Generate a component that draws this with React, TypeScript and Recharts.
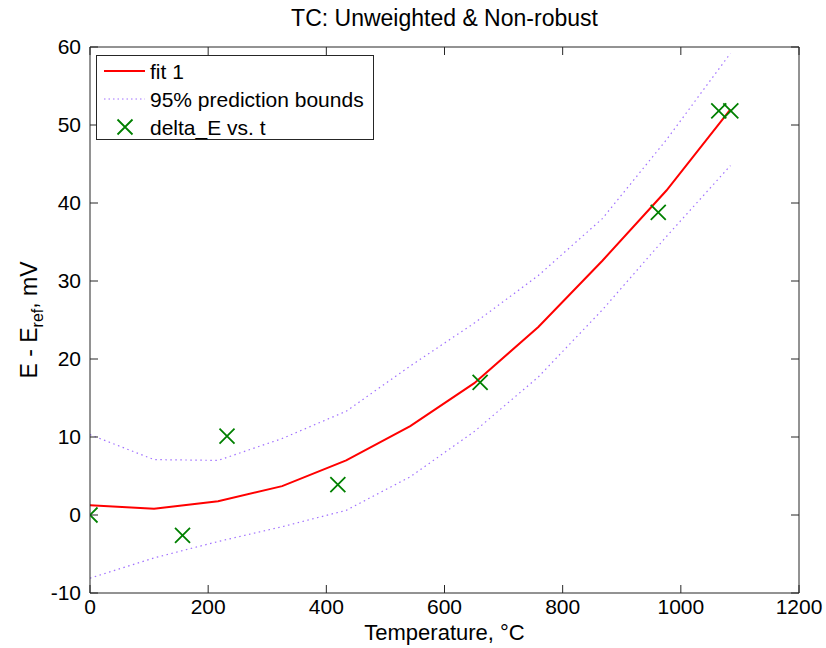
import React from "react";
import { ComposedChart, Line, Scatter, XAxis, YAxis, ReferenceLine, Legend } from "recharts";

// fit curve and prediction bounds, sampled at the same temperatures
const fitT = [0, 108.4, 216.8, 325.2, 433.6, 542, 650.4, 758.8, 867.2, 975.6, 1084];
const fitE = [1.25, 0.8, 1.76, 3.7, 7.0, 11.4, 16.9, 24.1, 32.6, 41.6, 52.0];
const upperE = [10.3, 7.1, 7.0, 9.8, 13.3, 19.1, 24.6, 30.7, 38.0, 48.1, 59.2];
const lowerE = [-8.1, -5.5, -3.4, -1.5, 0.6, 4.9, 10.7, 17.7, 26.3, 35.7, 44.8];

// measured points: delta_E vs. t
const dataT = [0, 156.6, 231.9, 419.5, 660.3, 961.8, 1064.2, 1084.6];
const dataE = [0, -2.6, 10.1, 3.9, 17.0, 38.8, 51.8, 51.8];

const xTicks = [0, 200, 400, 600, 800, 1000, 1200];
const yTicks = [-10, 0, 10, 20, 30, 40, 50, 60];

const FONT = "'Liberation Sans', Arial, sans-serif";
const AXIS = "#262626";
const RED = "#ff0000";
const BOUND = "#a070ff";
const GREEN = "#008000";

const PLOT_W = 709;
const PLOT_H = 546;
const TICK = 8;

const toRows = (ts: number[], es: number[]) => ts.map((t, i) => ({ t, e: es[i] }));
const fitRows = toRows(fitT, fitE);
const upperRows = toRows(fitT, upperE);
const lowerRows = toRows(fitT, lowerE);
const pointRows = toRows(dataT, dataE);

const XMark = (props: any) => {
  const { cx, cy } = props;
  const r = 7.5;
  return (
    <path
      d={`M${cx - r},${cy - r}L${cx + r},${cy + r}M${cx - r},${cy + r}L${cx + r},${cy - r}`}
      stroke={GREEN}
      strokeWidth={1.8}
      fill="none"
    />
  );
};

const BottomTick = (props: any) => {
  const { x, y, payload } = props;
  return (
    <g>
      <line x1={x} y1={y} x2={x} y2={y - TICK} stroke={AXIS} />
      <line x1={x} y1={y - PLOT_H} x2={x} y2={y - PLOT_H + TICK} stroke={AXIS} />
      <text x={x} y={y + 21} textAnchor="middle" fontSize={21} fontFamily={FONT} fill="#000">
        {payload.value}
      </text>
    </g>
  );
};

const LeftTick = (props: any) => {
  const { x, y, payload } = props;
  return (
    <g>
      <line x1={x} y1={y} x2={x + TICK} y2={y} stroke={AXIS} />
      <line x1={x + PLOT_W} y1={y} x2={x + PLOT_W - TICK} y2={y} stroke={AXIS} />
      <text x={x - 9} y={y + 7} textAnchor="end" fontSize={21} fontFamily={FONT} fill="#000">
        {payload.value}
      </text>
    </g>
  );
};

const YLabel = (props: any) => {
  const vb = props.viewBox || { x: 0, y: 47, width: 90, height: PLOT_H };
  const cx = 37;
  const cy = vb.y + vb.height / 2;
  return (
    <text
      x={cx}
      y={cy}
      transform={`rotate(-90, ${cx}, ${cy})`}
      textAnchor="middle"
      fontSize={23}
      fontFamily={FONT}
      fill="#000"
    >
      E - E<tspan dy={6} fontSize={16}>ref</tspan>
      <tspan dy={-6}>, mV</tspan>
    </text>
  );
};

const LegendBox = () => {
  const row = { display: "flex", alignItems: "center", height: 28 } as const;
  return (
    <div
      style={{
        border: `1px solid ${AXIS}`,
        background: "#fff",
        width: 278,
        height: 85,
        boxSizing: "border-box",
        padding: "1px 0 0 6px",
        fontFamily: FONT,
        fontSize: 21,
        color: "#000",
        lineHeight: 1,
      }}
    >
      <div style={row}>
        <svg width={44} height={28}>
          <line x1={1} y1={14} x2={42} y2={14} stroke={RED} strokeWidth={2} />
        </svg>
        <span style={{ marginLeft: 3 }}>fit 1</span>
      </div>
      <div style={row}>
        <svg width={44} height={28}>
          <line x1={1} y1={14} x2={42} y2={14} stroke={BOUND} strokeWidth={1} strokeDasharray="1.5 3" />
        </svg>
        <span style={{ marginLeft: 3 }}>95% prediction bounds</span>
      </div>
      <div style={row}>
        <svg width={44} height={28}>
          <XMark cx={22} cy={14} />
        </svg>
        <span style={{ marginLeft: 3 }}>delta_E vs. t</span>
      </div>
    </div>
  );
};

export default function App() {
  return (
    <div style={{ position: "absolute", left: 0, top: 0, width: 826, height: 648, background: "#fff" }}>
      <div
        style={{
          position: "absolute",
          left: 90,
          width: PLOT_W,
          top: 5,
          textAlign: "center",
          fontFamily: FONT,
          fontSize: 23,
          color: "#000",
        }}
      >
        TC: Unweighted &amp; Non-robust
      </div>
      <ComposedChart
        width={826}
        height={648}
        margin={{ top: 47, right: 27, left: 0, bottom: 0 }}
        style={{ fontFamily: FONT }}
      >
        <XAxis
          dataKey="t"
          type="number"
          domain={[0, 1200]}
          ticks={xTicks}
          interval={0}
          height={55}
          tickSize={0}
          tickMargin={0}
          tickLine={false}
          tick={BottomTick}
          axisLine={{ stroke: AXIS }}
          allowDataOverflow
          label={{
            value: "Temperature, °C",
            position: "insideBottom",
            offset: 8,
            style: { fontSize: 22, fill: "#000", fontFamily: FONT },
          }}
        />
        <YAxis
          dataKey="e"
          type="number"
          domain={[-10, 60]}
          ticks={yTicks}
          interval={0}
          width={90}
          tickSize={0}
          tickMargin={0}
          tickLine={false}
          tick={LeftTick}
          axisLine={{ stroke: AXIS }}
          allowDataOverflow
          label={<YLabel />}
        />
        <ReferenceLine y={60} stroke={AXIS} />
        <ReferenceLine x={1200} stroke={AXIS} />
        <Line
          data={upperRows}
          dataKey="e"
          type="linear"
          stroke={BOUND}
          strokeWidth={1.2}
          strokeDasharray="1.5 3.5"
          dot={false}
          activeDot={false}
          isAnimationActive={false}
          legendType="none"
        />
        <Line
          data={lowerRows}
          dataKey="e"
          type="linear"
          stroke={BOUND}
          strokeWidth={1.2}
          strokeDasharray="1.5 3.5"
          dot={false}
          activeDot={false}
          isAnimationActive={false}
          legendType="none"
        />
        <Line
          data={fitRows}
          dataKey="e"
          type="linear"
          stroke={RED}
          strokeWidth={2}
          dot={false}
          activeDot={false}
          isAnimationActive={false}
        />
        <Scatter data={pointRows} dataKey="e" shape={XMark} isAnimationActive={false} />
        <Legend
          layout="vertical"
          align="center"
          verticalAlign="middle"
          content={<LegendBox />}
          wrapperStyle={{ left: 96, top: 55, width: 278, height: 85 }}
        />
      </ComposedChart>
    </div>
  );
}
